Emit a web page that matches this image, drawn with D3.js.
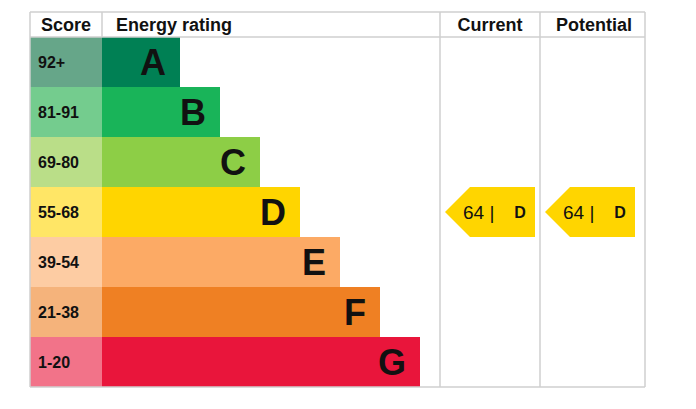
<!DOCTYPE html><html><head><script src="https://cdn.jsdelivr.net/npm/d3@7"></script>
<style>body{margin:0;background:#fff}</style></head><body><svg id="c" width="696" height="409"></svg>
<script>
const bands=["A","B","C","D","E","F","G"];
const scores=["92+","81-91","69-80","55-68","39-54","21-38","1-20"];
const barColors=["#008054","#19b459","#8dce46","#ffd500","#fcaa65","#ef8023","#e9153b"];
const scoreColors=["#66a689","#74cc8e","#bade88","#ffe666","#fdcca3","#f5b37b","#f27389"];
const barWidthSteps=[1,2,3,4,5,6,7];
const current={value:64,band:"D"};
const potential={value:64,band:"D"};
const svg=d3.select("#c");
const y=d3.scaleBand().domain(bands).range([37,387]);
const w=d3.scaleLinear().domain([0,7]).range([102,420]);
const wx=v=>102+ (v===0?0:78+(v-1)*40);
const f="Liberation Sans, Arial, sans-serif";
const g=svg.append("g");
g.selectAll(".s").data(bands).join("rect").attr("x",30).attr("width",72).attr("y",d=>y(d)).attr("height",y.bandwidth()).attr("fill",(d,i)=>scoreColors[i]);
g.selectAll(".b").data(bands).join("rect").attr("x",102).attr("width",(d,i)=>wx(barWidthSteps[i])-102).attr("y",d=>y(d)).attr("height",y.bandwidth()).attr("fill",(d,i)=>barColors[i]);
g.selectAll(".st").data(bands).join("text").attr("x",38).attr("y",d=>y(d)+y.bandwidth()/2+6).text((d,i)=>scores[i]).attr("font-family",f).attr("font-weight","bold").attr("font-size",16).attr("fill","#111");
g.selectAll(".bt").data(bands).join("text").attr("x",(d,i)=>wx(barWidthSteps[i])-14).attr("text-anchor","end").attr("y",d=>y(d)+y.bandwidth()/2+13).text(d=>d).attr("font-family",f).attr("font-weight","bold").attr("font-size",36).attr("fill","#111");
const line=(x1,y1,x2,y2)=>svg.append("line").attr("x1",x1).attr("y1",y1).attr("x2",x2).attr("y2",y2).attr("stroke","#cfcfcf").attr("stroke-width",1.5);
line(30,12,645,12);line(30,37,645,37);line(30,387,645,387);
line(30,12,30,387);line(645,12,645,387);line(102,12,102,37);line(440,12,440,387);line(540,12,540,387);
const hd=[["Score",66,"middle"],["Energy rating",116,"start"],["Current",490,"middle"],["Potential",594,"middle"]];
svg.selectAll(".h").data(hd).join("text").attr("x",d=>d[1]).attr("y",31).attr("text-anchor",d=>d[2]).text(d=>d[0]).attr("font-family",f).attr("font-weight","bold").attr("font-size",18).attr("fill","#111");
function arrow(x0,r){const yy=y(r.band),h=y.bandwidth(),c=barColors[bands.indexOf(r.band)];
 svg.append("path").attr("d",`M${x0},${yy+h/2}L${x0+25},${yy}L${x0+90},${yy}L${x0+90},${yy+h}L${x0+25},${yy+h}Z`).attr("fill",c);
 svg.append("text").attr("x",x0+18).attr("y",yy+h/2+7).text(r.value+" |").attr("font-family",f).attr("font-size",19).attr("fill","#111");
 svg.append("text").attr("x",x0+75).attr("y",yy+h/2+6).attr("text-anchor","middle").text(r.band).attr("font-family",f).attr("font-weight","bold").attr("font-size",16).attr("fill","#111");}
arrow(445,current);arrow(545,potential);
</script></body></html>
